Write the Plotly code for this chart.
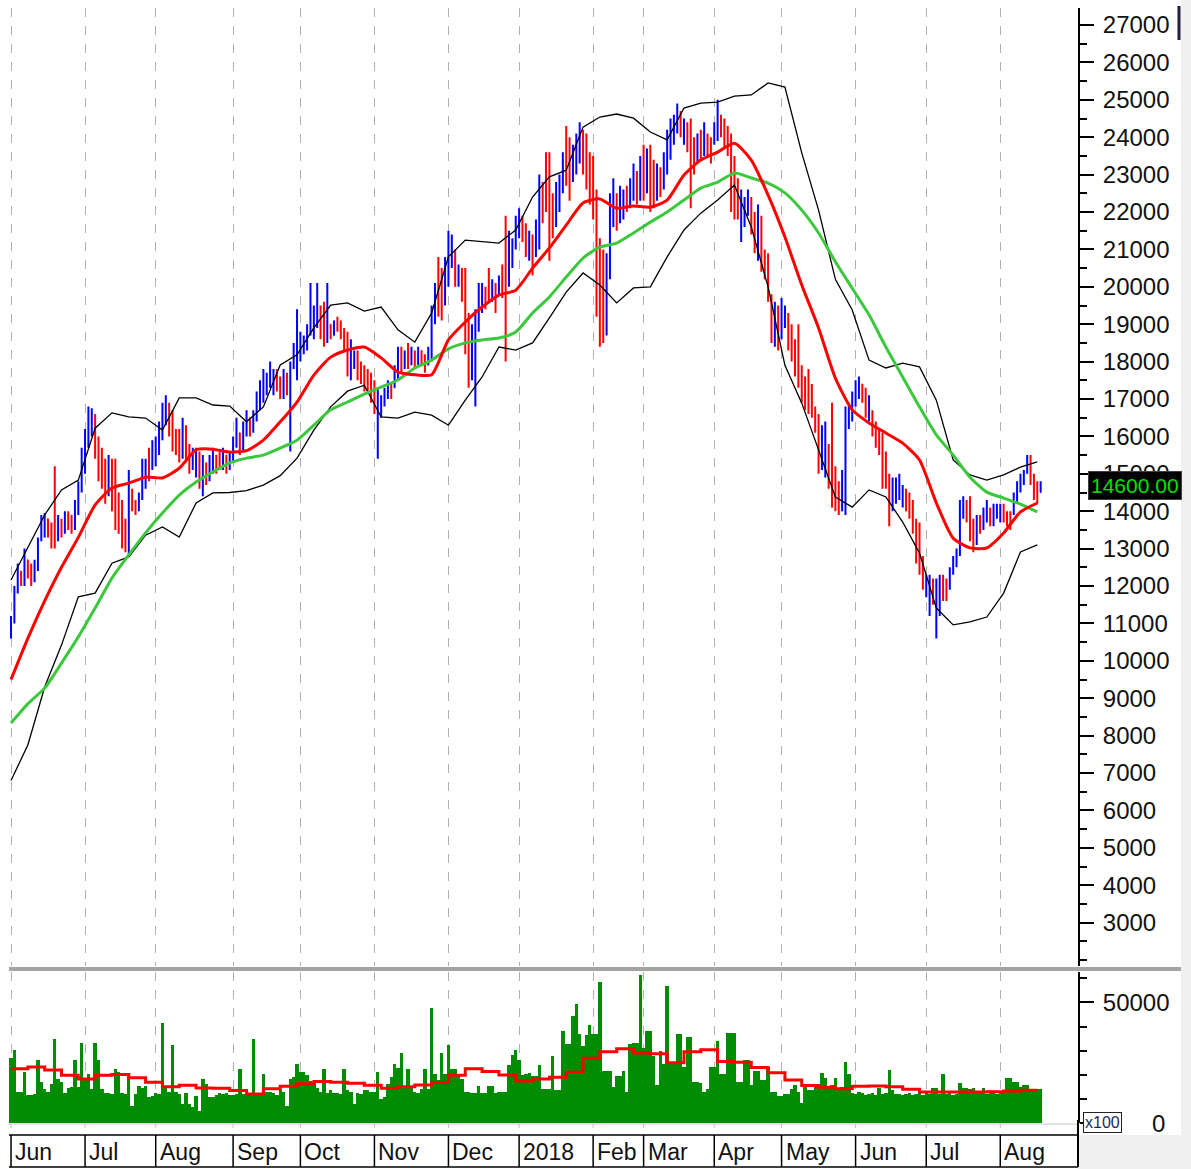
import plotly.graph_objects as go

# ---------------- data ----------------
month_labels = ["Jun", "Jul", "Aug", "Sep", "Oct", "Nov", "Dec", "2018",
                "Feb", "Mar", "Apr", "May", "Jun", "Jul", "Aug"]
month_sessions = [22, 21, 23, 20, 22, 22, 21, 22, 15, 21, 20, 22, 21, 22, 13]

opens = [
    10700, 11100, 11900, 12400, 12100, 12700, 12400, 12200, 12600, 13300, 13500, 13800, 13600, 14800, 13400, 13700, 13500, 13900, 13800, 13600, 14100, 14700,
    15300, 16000, 16300, 16500, 15800, 15500, 15200, 14500, 15200, 15000, 14300, 14000, 13600, 13000, 14500, 14200, 14100, 14400, 14800, 15500, 15200,
    15400, 15800, 16100, 16500, 16800, 16500, 16100, 16000, 15600, 16200, 15600, 15200, 15000, 15400, 14700, 15200, 14900, 15300, 15500, 15500, 15200, 15500, 15200,
    15400, 15900, 16100, 15700, 16100, 16500, 16200, 16500, 16900, 17100, 17300, 17400, 17300, 17700, 17500, 17100, 17600, 17200, 17900, 18000,
    18200, 18300, 18500, 18900, 18800, 19100, 19400, 19300, 18700, 19000, 18700, 19100, 19000, 18800, 18600, 17800, 17900, 18200, 17900, 17700, 17600, 17500,
    17300, 16500, 16700, 16900, 17100, 17400, 17300, 17700, 18300, 17900, 18300, 18000, 18200, 18000, 18300, 18100, 17900, 18300, 19200, 20500, 20200, 19600,
    20500, 20800, 20900, 20100, 20400, 20000, 19000, 17700, 17800, 19000, 19500, 19900, 20300, 19700, 20000, 19900, 20400, 21000, 20300, 20800, 21200,
    21500, 21800, 21500, 20900, 21200, 21000, 21400, 22600, 23300, 23000, 22200, 21700, 22200, 22700, 24000, 23600, 23000, 23300, 23500, 24000, 23800, 23300,
    23000, 22300, 20800, 20500, 19000, 20500, 21800, 22400, 21800, 22000, 22600, 22200, 22500, 23000, 22500,
    23600, 22700, 23500, 23200, 22400, 23100, 22700, 23300, 23700, 24000, 24300, 24600, 24000, 24300, 24200, 23800, 23400, 24000, 23600, 24000, 23900,
    23900, 24100, 24500, 24300, 24100, 23800, 23000, 22700, 21500, 21800, 22000, 22300, 21800, 21000, 21700, 20900, 20600, 19600, 18600, 19300,
    18700, 19000, 19200, 18800, 18400, 18200, 17700, 17400, 17300, 17100, 16700, 16400, 15300, 15200, 15600, 16200, 15000, 14600, 14100, 14200, 16300, 16600,
    16900, 17100, 17400, 17100, 16500, 16600, 16300, 16000, 15900, 15400, 14900, 14100, 14300, 14500, 14200, 14500, 14300, 14100, 13600, 13400, 12700,
    11800, 11500, 12100, 11000, 11400, 12200, 12100, 12000, 12400, 12600, 12900, 13900, 14200, 14200, 13600, 13200, 13800, 13600, 13800, 14000, 13700, 13900,
    13800, 14100, 13900, 13900, 14000, 14300, 14600, 14800, 15100, 15400, 14900, 14700, 14500,
]
highs = [
    11200, 12000, 12600, 12400, 13000, 12700, 12600, 12700, 13300, 13900, 13950, 13800, 13700, 15200, 13900, 13800, 14000, 14000, 13900, 14300, 14800, 15700,
    16200, 16800, 16750, 16600, 16000, 15700, 15400, 15500, 15400, 15400, 14500, 14300, 13800, 15100, 14600, 14300, 14500, 15400, 15400, 15700, 15900,
    16000, 16400, 16900, 17100, 16900, 16700, 16200, 16200, 16500, 16300, 15800, 15700, 15700, 15600, 15500, 15300, 15500, 15700, 15500, 15600, 15700, 15500, 15600,
    16000, 16500, 16100, 16400, 16700, 16500, 16700, 17200, 17500, 17800, 17700, 18000, 17800, 17800, 17600, 17800, 17700, 18000, 18500, 19400,
    18800, 18700, 19000, 20100, 19500, 20100, 19500, 19600, 20100, 19000, 19100, 19200, 19100, 18900, 18800, 18600, 18300, 18300, 18000, 17900, 17800, 17700,
    17500, 17300, 17100, 17300, 17500, 17400, 17900, 18400, 18400, 18300, 18500, 18400, 18300, 18400, 18300, 18200, 18400, 19500, 20100, 20800, 20500, 20800,
    21500, 21400, 21000, 20600, 20500, 20500, 19300, 19000, 19400, 20100, 20100, 20000, 20500, 20200, 20100, 20300, 20600, 21900, 21500, 21300, 21900,
    22100, 21900, 21700, 21500, 21400, 21800, 23000, 22800, 23600, 23600, 22500, 22800, 23000, 23600, 24300, 24000, 23800, 24100, 24400, 24200, 24100, 23600,
    23500, 22600, 21300, 21000, 20900, 22500, 22900, 22500, 22700, 22600, 22700, 22900, 23300, 23100, 23500,
    23800, 23700, 23800, 23400, 23300, 23200, 23600, 24200, 24500, 24600, 24900, 24700, 24500, 24400, 24500, 24000, 24100, 24200, 24400, 24100, 24000,
    24400, 25000, 24600, 24500, 24300, 24100, 23500, 22900, 22600, 22400, 22600, 22400, 22000, 22200, 21900, 21000, 20900, 19800, 19600, 19500,
    19700, 19500, 19300, 19000, 18600, 19000, 17900, 17600, 17800, 17400, 16800, 16600, 16300, 16400, 15800, 16900, 15200, 14800, 15100, 16800, 16900, 17200,
    17500, 17600, 17400, 17300, 17100, 16700, 16400, 16200, 16100, 15600, 15000, 14900, 14900, 15000, 14700, 14600, 14500, 14300, 13800, 13700, 12800,
    12300, 12300, 12200, 12200, 12300, 12300, 12200, 12500, 12800, 13000, 14300, 14400, 14300, 14400, 13800, 13900, 13900, 14100, 14300, 14100, 14200, 14200,
    14200, 14200, 14000, 14000, 14500, 14800, 15000, 15100, 15500, 15500, 15000, 14800, 14800,
]
lows = [
    10600, 11000, 11800, 12000, 12000, 12200, 12000, 12100, 12400, 13200, 13300, 13300, 13000, 13000, 13200, 13300, 13400, 13500, 13400, 13500, 13900, 14500,
    15000, 15700, 16000, 15400, 14800, 14600, 14200, 14400, 14000, 13500, 13400, 13000, 12900, 12800, 14000, 13900, 14000, 14300, 14600, 14800, 15100,
    15200, 15500, 15900, 16300, 16000, 15600, 15500, 15300, 15400, 15300, 15000, 15100, 14900, 14600, 14400, 14700, 14800, 15000, 15000, 15100, 15100, 15000, 15100,
    15300, 15700, 15500, 15600, 16000, 16000, 16100, 16400, 16700, 16900, 17100, 17300, 17100, 17200, 17000, 17000, 17100, 15600, 17800, 17500,
    18000, 18200, 18300, 18700, 18600, 18900, 18600, 18400, 18500, 18600, 18700, 18800, 18600, 18300, 17600, 17500, 17800, 17500, 17400, 17200, 17200, 16900,
    16600, 15400, 16500, 16800, 17000, 17000, 17300, 17500, 17700, 17800, 17800, 17900, 17800, 17900, 17900, 17700, 17900, 18000, 19000, 19200, 19100, 19500,
    20000, 20500, 20000, 20000, 19600, 18200, 17300, 17500, 16800, 18800, 19300, 19400, 19600, 19600, 19300, 19800, 19700, 18000, 20000, 20500, 21000,
    21300, 21200, 20800, 20700, 20300, 20800, 21000, 21700, 22000, 20700, 21300, 21600, 22000, 22500, 22700, 22300, 22800, 23000, 23300, 23000, 22600, 22200,
    21800, 19200, 18400, 18500, 18700, 20200, 21600, 21500, 21700, 21800, 22000, 22100, 22300, 22200, 22300,
    22300, 22500, 22000, 22100, 22300, 22400, 22600, 23000, 23400, 23800, 24100, 24000, 23800, 23600, 22100, 23000, 23300, 23400, 23500, 23500, 23300,
    23800, 23900, 24000, 23700, 23500, 22000, 21800, 21800, 21200, 21600, 21900, 21400, 20900, 20700, 20400, 20200, 19600, 18500, 18400, 18300,
    18600, 18900, 18300, 18000, 17600, 17300, 16900, 16700, 16600, 16500, 16100, 15000, 15100, 14900, 14600, 14100, 14000, 13900, 14000, 13900, 16200, 16400,
    16800, 17000, 16900, 16500, 16400, 16000, 15700, 15500, 14600, 14600, 13600, 14000, 14200, 14300, 14100, 14000, 13800, 13400, 12600, 12300, 11900,
    11700, 11200, 11500, 10600, 11200, 11600, 11600, 11900, 12300, 12500, 12800, 13800, 13700, 13200, 12900, 13100, 13400, 13500, 13700, 13600, 13600, 13800,
    13700, 13700, 13600, 13500, 13900, 14200, 14500, 14700, 15000, 14700, 14300, 14200, 14500,
]
closes = [
    11100, 11900, 12400, 12100, 12800, 12300, 12100, 12600, 13200, 13800, 13900, 13400, 13200, 13400, 13800, 13400, 13900, 13600, 13500, 14200, 14700, 15500,
    16000, 16600, 16600, 15600, 15000, 14800, 14400, 15300, 14300, 13800, 13600, 13300, 13100, 14600, 14100, 14000, 14400, 15200, 15300, 15000, 15800,
    15900, 16300, 16800, 16900, 16200, 15800, 15700, 15500, 16300, 15500, 15200, 15600, 15500, 14800, 15300, 14900, 15400, 15600, 15200, 15200, 15600, 15200, 15500,
    15900, 16300, 15700, 16200, 16600, 16100, 16600, 17100, 17400, 17600, 17600, 17900, 17700, 17300, 17100, 17600, 17200, 17900, 18400, 18700,
    18600, 18600, 18900, 19700, 19300, 19800, 18800, 18700, 19600, 18700, 19000, 18900, 18700, 18400, 17800, 18300, 18200, 17700, 17500, 17400, 17300, 17100,
    16800, 17100, 17000, 17200, 17400, 17100, 17800, 18200, 17900, 18200, 17900, 18300, 17900, 18300, 18000, 17800, 18300, 19300, 19900, 19500, 19300, 20600,
    21300, 21200, 20200, 20500, 19800, 18500, 17600, 18700, 19200, 19900, 20000, 19600, 19800, 20100, 19500, 20200, 19900, 19000, 21200, 21100, 21700,
    21900, 21400, 21000, 21300, 20600, 21600, 22700, 22000, 22400, 21200, 21600, 22500, 22800, 23400, 23000, 22600, 23600, 23900, 24200, 23300, 22900, 22500,
    22000, 19600, 18900, 19000, 20600, 22300, 22600, 21800, 22500, 22400, 22200, 22800, 23100, 22400, 23300,
    22600, 23500, 22300, 22400, 23100, 22600, 23400, 24000, 24300, 24500, 24700, 24200, 24400, 23800, 22600, 23300, 23900, 23600, 24200, 23700, 23500,
    24300, 24700, 24200, 23900, 23700, 22400, 22100, 22000, 22400, 22300, 22500, 21600, 21100, 21900, 20600, 20400, 19800, 18700, 19400, 18500,
    19500, 19400, 18500, 18200, 17800, 17500, 17100, 16900, 16800, 16600, 16200, 15300, 16000, 16100, 14800, 14400, 14200, 14000, 14900, 16500, 16800, 17000,
    17300, 17500, 17000, 16700, 16900, 16200, 15900, 15700, 14900, 14800, 13800, 14700, 14800, 14900, 14600, 14100, 13900, 13600, 12800, 12500, 12000,
    12200, 12100, 11700, 11900, 12100, 11800, 11700, 12400, 12700, 12900, 14000, 14300, 13800, 13400, 13100, 13700, 13500, 14000, 14200, 13700, 14100, 14100,
    14100, 13800, 13700, 13600, 14400, 14700, 14900, 15000, 15400, 14800, 14400, 14300, 14600,
]
volumes = [
    26800, 30400, 13000, 13000, 21000, 11600, 11600, 12000, 26100, 17000, 14000, 13000, 16000, 34800, 18100, 17000, 12300, 14500, 15000, 26100, 15000, 33300,
    18000, 20300, 14000, 33300, 26100, 14000, 12300, 12300, 12000, 22500, 21000, 12300, 12000, 20300, 7200, 12000, 15200, 14500, 15200, 10800, 11000,
    12300, 12000, 41300, 15200, 13000, 32200, 13000, 12000, 8000, 12300, 8000, 6500, 11000, 5100, 18100, 16000, 10800, 10800, 11500, 12300, 12000, 12300, 11600,
    11600, 12000, 22500, 12000, 11600, 12000, 34800, 12300, 12300, 20300, 13000, 13000, 12300, 11600, 13500, 13000, 7200, 18100, 19000, 24600,
    21000, 21000, 20000, 17400, 16800, 14500, 13000, 22500, 12300, 13800, 12300, 12300, 12000, 22500, 13800, 13000, 8000, 12300, 12000, 13800, 13500, 13000,
    13000, 21000, 10000, 10800, 16000, 19000, 24600, 23000, 29000, 15000, 22500, 15200, 13000, 12300, 14000, 22500, 14000, 47500, 20300, 18000, 29000, 20300,
    32200, 22500, 22500, 20000, 18100, 13000, 13000, 12300, 12300, 15200, 12300, 12300, 15200, 15200, 12300, 13000, 13000, 13000, 23900, 28000, 30400,
    26000, 20000, 20300, 20900, 19500, 19500, 23900, 14300, 14300, 14300, 27600, 13500, 13500, 38200, 32700, 32700, 44500, 49400, 37100, 32000, 36400, 40800,
    37100, 37100, 58500, 21700, 21700, 21700, 15000, 19500, 19500, 21700, 12800, 32700, 33200, 33200, 61200,
    31200, 38200, 38200, 27600, 15800, 29800, 24600, 57000, 24600, 24600, 37100, 37100, 23100, 35700, 35700, 17200, 17200, 16500, 12800, 14300, 23100,
    23100, 33800, 20200, 20200, 37400, 37400, 37400, 17200, 17200, 26100, 26100, 15800, 21700, 21700, 18000, 18000, 23100, 12800, 12800, 11400,
    11400, 12100, 12100, 14000, 15800, 13000, 8400, 15000, 13500, 13500, 15000, 15000, 20900, 18700, 15000, 15800, 18700, 13500, 15000, 25400, 20200, 12500,
    12000, 13000, 12500, 11500, 12000, 12500, 11800, 14600, 12000, 12500, 22000, 13500, 12000, 12000, 11500, 12000, 12300, 11500, 12000, 12500, 11800,
    12300, 12000, 14600, 14600, 12000, 20200, 12000, 12500, 11800, 12000, 16500, 14600, 14600, 14000, 14600, 12500, 12300, 14600, 12000, 12300, 12500, 12000,
    12300, 12500, 18700, 18700, 17200, 17200, 15000, 15800, 15800, 14300, 14300, 14000, 14300,
]

# indicator values read every 5th session (session 0, 5, 10, ...)
sample_step = 5
ma_red = [
    9500, 10600, 11600, 12500, 13300, 14170, 14620, 14750, 14910, 14890,
    15150, 15640, 15660, 15580, 15620, 15900, 16390, 16920, 17640, 18120,
    18310, 18390, 18100, 17720, 17650, 17650, 18580, 19060, 19460, 19780,
    19910, 20500, 21040, 21650, 22240, 22350, 22100, 22160, 22130, 22320,
    22990, 23390, 23600, 23840, 23390, 22450, 21330, 20050, 18900, 17560,
    16710, 16360, 16090, 15820, 15370, 14220, 13280, 13020, 13020, 13420,
    13980, 14220]
ma_green = [
    8340, 8850, 9270, 9940, 10640, 11410, 12210, 12830, 13420, 13950,
    14430, 14780, 15050, 15290, 15420, 15500, 15690, 15900, 16300, 16710,
    16920, 17130, 17320, 17510, 17830, 18040, 18340, 18500, 18580, 18630,
    18790, 19300, 19730, 20260, 20770, 21060, 21170, 21440, 21730, 22000,
    22320, 22640, 22800, 23040, 22910, 22770, 22510, 22050, 21440, 20670,
    19960, 19250, 18390, 17590, 16790, 16040, 15500, 14910, 14510, 14350,
    14190, 13980]
bb_upper = [
    12160, 13040, 13900, 14570, 14830, 16220, 16630, 16520, 16490, 16170,
    17030, 17030, 16840, 16810, 16390, 16790, 17910, 18180, 18900, 19510,
    19570, 19350, 19460, 18850, 18520, 19300, 20800, 21250, 21200, 21170,
    21520, 22400, 22940, 23120, 24270, 24540, 24620, 24510, 24140, 23930,
    24780, 24910, 24940, 25100, 25130, 25450, 25340, 23580, 22050, 20200,
    19380, 18040, 17830, 17960, 17860, 16970, 15370, 14970, 14830, 14970,
    15180, 15320]
bb_lower = [
    6800, 7750, 9300, 10420, 11710, 11810, 12610, 12780, 13360, 13580,
    13310, 14220, 14490, 14500, 14550, 14700, 14950, 15420, 16170, 16790,
    17210, 17370, 16520, 16490, 16650, 16570, 16300, 16970, 17590, 18390,
    18310, 18500, 19170, 19860, 20370, 20050, 19570, 19970, 20000, 20800,
    21520, 21970, 22320, 22720, 21600, 20000, 17900, 16890, 15640, 14380,
    14110, 14570, 14380, 13710, 12880, 11410, 10960, 11040, 11170, 11810,
    12910, 13100]
vol_ma = [
    22500, 23200, 22000, 19800, 18200, 19800, 20100, 18800, 16900, 15000,
    15600, 14500, 14400, 13500, 12000, 14200, 15200, 16300, 17200, 16900,
    16500, 15600, 14400, 15000, 15800, 16800, 19800, 22500, 21300, 19900,
    17400, 18200, 19000, 21000, 26800, 29500, 30800, 29000, 28700, 25000,
    29500, 30400, 25500, 25200, 23000, 20800, 17800, 15500, 14800, 14200,
    15200, 15300, 15000, 14000, 12800, 12800, 12800, 12800, 13000, 13300,
    13600, 13600]

price_ticks = [3000, 4000, 5000, 6000, 7000, 8000, 9000, 10000, 11000, 12000, 13000,
               14000, 15000, 16000, 17000, 18000, 19000, 20000, 21000, 22000, 23000,
               24000, 25000, 26000, 27000]
volume_ticks = [50000]
last_price = 14600

n = len(closes)
for arr in (opens, highs, lows, volumes):
    assert len(arr) == n, len(arr)
assert sum(month_sessions) == n
x = list(range(n))
sx = list(range(0, n, sample_step))[:len(ma_red)]
month_starts = []
acc = 0
for m in month_sessions:
    month_starts.append(acc)
    acc += m

# ---------------- geometry helpers (paper coordinates) ----------------
W, H = 1191, 1169
def px(xp):
    return xp / W
def py(yp):
    return 1 - yp / H

FONT = "Liberation Sans, Arial, sans-serif"
TXT = "#111111"

fig = go.Figure()
fig.add_trace(go.Ohlc(
    x=x, open=opens, high=highs, low=lows, close=closes,
    increasing=dict(line=dict(color="#0000ff", width=2)),
    decreasing=dict(line=dict(color="#ff0000", width=2)),
    tickwidth=0.15, hoverinfo="skip", xaxis="x", yaxis="y"))
for vals in (bb_upper, bb_lower):
    fig.add_trace(go.Scatter(x=sx, y=vals, mode="lines",
                             line=dict(color="#000000", width=1.3),
                             hoverinfo="skip", xaxis="x", yaxis="y"))
fig.add_trace(go.Scatter(x=sx, y=ma_green, mode="lines",
                         line=dict(color="#3cc83c", width=3, shape="spline", smoothing=0.6),
                         hoverinfo="skip", xaxis="x", yaxis="y"))
fig.add_trace(go.Scatter(x=sx, y=ma_red, mode="lines",
                         line=dict(color="#ff0000", width=3, shape="spline", smoothing=0.6),
                         hoverinfo="skip", xaxis="x", yaxis="y"))

fig.add_trace(go.Bar(x=x, y=volumes, marker=dict(color="#008c00", line=dict(width=0)),
                     hoverinfo="skip", xaxis="x2", yaxis="y2"))
fig.add_trace(go.Scatter(x=sx, y=vol_ma, mode="lines",
                         line=dict(color="#ff0000", width=3, shape="hv"),
                         hoverinfo="skip", xaxis="x2", yaxis="y2"))

xr = [-0.6, 317.1]
xdom = [px(9), px(1078)]
common_x = dict(domain=xdom, range=xr, tickmode="array", tickvals=month_starts,
                showticklabels=False, ticks="", showgrid=True, gridcolor="#b0b0b0",
                griddash="dash", gridwidth=1, zeroline=False, showline=False,
                fixedrange=True)

fig.update_layout(
    width=W, height=H,
    margin=dict(l=0, r=0, t=0, b=0, autoexpand=False),
    paper_bgcolor="white", plot_bgcolor="white",
    showlegend=False, bargap=0,
    font=dict(family=FONT, color=TXT),
    xaxis=dict(anchor="y", rangeslider=dict(visible=False), **common_x),
    xaxis2=dict(anchor="y2", matches="x", **common_x),
    yaxis=dict(domain=[py(966), py(8)], range=[1840, 27455], side="right", anchor="x",
               tickmode="array", tickvals=price_ticks, tickformat="d",
               ticks="outside", ticklen=14,
               tickwidth=2, tickcolor="black", showline=True, linecolor="black",
               linewidth=2, showgrid=False, zeroline=False,
               tickfont=dict(family=FONT, size=24, color=TXT),
               ticklabelstandoff=4,
               minor=dict(dtick=500, tick0=0, ticks="outside", ticklen=7,
                          tickcolor="black", tickwidth=1.5, showgrid=False)),
    yaxis2=dict(domain=[py(1123), py(972)], range=[0, 62600], side="right", anchor="x2",
                tickmode="array", tickvals=volume_ticks, tickformat="d", ticks="outside",
                ticklen=14, tickwidth=2, tickcolor="black", showline=True,
                linecolor="black", linewidth=2, showgrid=False, zeroline=False,
                tickfont=dict(family=FONT, size=24, color=TXT),
                ticklabelstandoff=4,
                minor=dict(dtick=10000, tick0=0, ticks="outside", ticklen=7,
                           tickcolor="black", tickwidth=1.5, showgrid=False)),
)

shapes = []
# light grey frame areas at the right / bottom-right
shapes.append(dict(type="rect", xref="paper", yref="paper", x0=px(1181), x1=1,
                   y0=0, y1=1, fillcolor="#f0f0f0", line=dict(width=0), layer="below"))
shapes.append(dict(type="rect", xref="paper", yref="paper", x0=px(1078), x1=1,
                   y0=0, y1=py(1135), fillcolor="#f0f0f0", line=dict(width=0), layer="below"))
# separator between price and volume panels
shapes.append(dict(type="rect", xref="paper", yref="paper", x0=px(9), x1=px(1181),
                   y0=py(971), y1=py(967), fillcolor="#a4a4a4", line=dict(width=0)))
# thin baseline under volume with month ticks
shapes.append(dict(type="line", xref="paper", yref="paper", x0=px(9), x1=px(1078),
                   y0=py(1124), y1=py(1124), line=dict(color="#c8c8c8", width=1)))
for ms in month_starts:
    shapes.append(dict(type="line", xref="x2", yref="paper", x0=ms, x1=ms,
                       y0=py(1124), y1=py(1128), line=dict(color="#c0c0c0", width=1)))
# date strip frame
strip_top, strip_bot = 1135, 1167
shapes.append(dict(type="line", xref="paper", yref="paper", x0=px(9), x1=px(1078),
                   y0=py(strip_top), y1=py(strip_top), line=dict(color="black", width=1.5)))
shapes.append(dict(type="line", xref="paper", yref="paper", x0=px(9), x1=px(1078),
                   y0=py(strip_bot), y1=py(strip_bot), line=dict(color="black", width=1.5)))
shapes.append(dict(type="line", xref="paper", yref="paper", x0=px(1078), x1=px(1078),
                   y0=py(1120), y1=py(strip_bot), line=dict(color="black", width=2)))
for ms in month_starts:
    shapes.append(dict(type="line", xref="x2", yref="paper", x0=ms, x1=ms,
                       y0=py(strip_top), y1=py(strip_bot), line=dict(color="black", width=1.5)))
# dark marker at top right
shapes.append(dict(type="line", xref="paper", yref="paper", x0=px(1179), x1=px(1179),
                   y0=py(6), y1=py(40), line=dict(color="#1e1e3a", width=3)))
fig.update_layout(shapes=shapes)

ann = []
for lab, ms in zip(month_labels, month_starts):
    ann.append(dict(x=ms, xref="x2", y=py((strip_top + strip_bot) / 2 + 1), yref="paper",
                    text=lab, showarrow=False, xanchor="left", yanchor="middle",
                    xshift=2, font=dict(family=FONT, size=23, color=TXT)))
ann.append(dict(x=px(1088), xref="paper", y=last_price, yref="y",
                text=f"{last_price:.2f}", showarrow=False, xanchor="left", yanchor="middle",
                yshift=3, bgcolor="#000000", bordercolor="#404040", borderwidth=1, borderpad=2,
                font=dict(family=FONT, size=21, color="#00e000")))
ann.append(dict(x=px(1083), xref="paper", y=py(1122), yref="paper", text="x100",
                showarrow=False, xanchor="left", yanchor="middle", bgcolor="white",
                bordercolor="#222222", borderwidth=1, borderpad=1,
                font=dict(family=FONT, size=16, color="#1a2a5a")))
ann.append(dict(x=px(1167), xref="paper", y=py(1123), yref="paper", text="0",
                showarrow=False, xanchor="right", yanchor="middle",
                font=dict(family=FONT, size=24, color=TXT)))
fig.update_layout(annotations=ann)

fig.write_html("out.html", config={"displayModeBar": False},
               post_script="document.body.style.margin='0';")
